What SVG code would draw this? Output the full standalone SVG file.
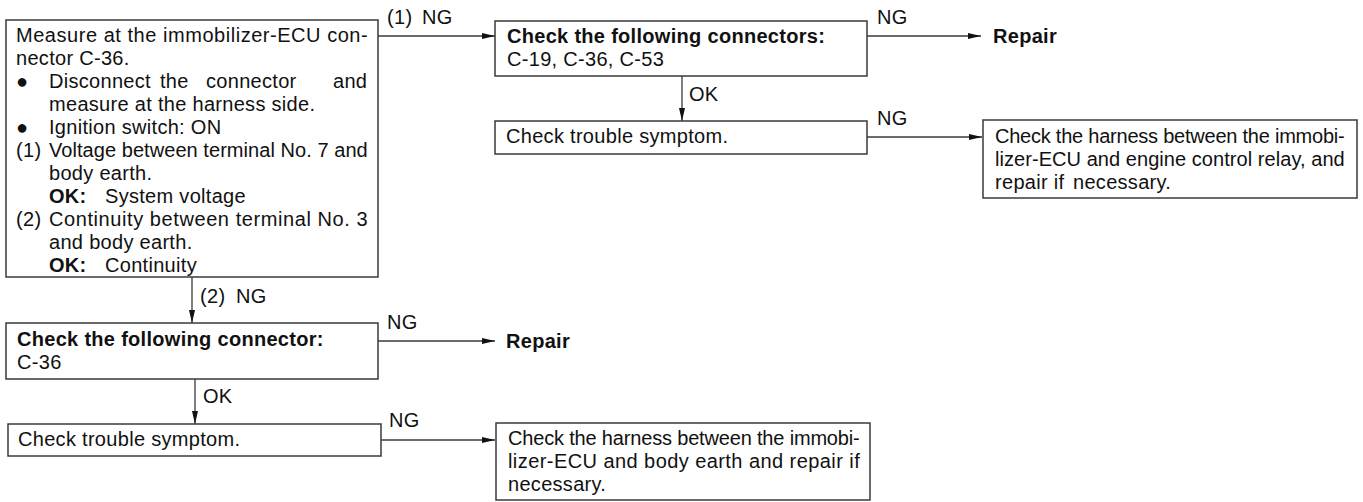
<svg xmlns="http://www.w3.org/2000/svg" width="1363" height="502" viewBox="0 0 1363 502">
<defs>
<style>
.box{fill:#fff;stroke:#3a3a3a;stroke-width:1.5}
.t{font-family:"Liberation Sans",Arial,Helvetica,sans-serif;font-size:20px;fill:#111;letter-spacing:0.3px}
.b{font-weight:bold}
.ln{stroke:#3a3a3a;stroke-width:1.3;fill:none}
</style>
<marker id="ah" markerWidth="14" markerHeight="8" refX="13" refY="4" orient="auto" markerUnits="userSpaceOnUse">
<path d="M0,1 L13,4 L0,7 Z" fill="#111"/>
</marker>
</defs>
<rect width="1363" height="502" fill="#fff"/>

<g id="connectors">
<line class="ln" x1="378" y1="36" x2="495" y2="36" marker-end="url(#ah)"/>
<text class="t" y="24"><tspan x="387">(1)</tspan><tspan x="422">NG</tspan></text>
<line class="ln" x1="867" y1="36" x2="981" y2="36" marker-end="url(#ah)"/>
<text class="t" x="877" y="24">NG</text>
<line class="ln" x1="682" y1="76" x2="682" y2="121" marker-end="url(#ah)"/>
<text class="t" x="689" y="101">OK</text>
<line class="ln" x1="867" y1="137" x2="982" y2="137" marker-end="url(#ah)"/>
<text class="t" x="877" y="125">NG</text>
<line class="ln" x1="192" y1="277" x2="192" y2="323" marker-end="url(#ah)"/>
<text class="t" y="303"><tspan x="200">(2)</tspan><tspan x="236">NG</tspan></text>
<line class="ln" x1="378" y1="341" x2="495" y2="341" marker-end="url(#ah)"/>
<text class="t" x="387" y="329">NG</text>
<line class="ln" x1="195" y1="379" x2="195" y2="424" marker-end="url(#ah)"/>
<text class="t" x="203" y="403">OK</text>
<line class="ln" x1="381" y1="440" x2="495" y2="440" marker-end="url(#ah)"/>
<text class="t" x="389" y="427">NG</text>
</g>

<g id="n1">
<rect class="box" x="6" y="20" width="372" height="257"/>
<text class="t" x="16" y="42" textLength="352" lengthAdjust="spacing">Measure at the immobilizer-ECU con-</text>
<text class="t" x="16" y="65">nector C-36.</text>
<text class="t" x="16" y="88">●</text>
<text class="t" y="88"><tspan x="49">Disconnect</tspan><tspan x="160">the</tspan><tspan x="206">connector</tspan><tspan x="333">and</tspan></text>
<text class="t" x="49" y="111">measure at the harness side.</text>
<text class="t" x="16" y="134">●</text>
<text class="t" x="49" y="134">Ignition switch: ON</text>
<text class="t" x="16" y="157">(1)</text>
<text class="t" x="49" y="157" textLength="319" lengthAdjust="spacing">Voltage between terminal No. 7 and</text>
<text class="t" x="49" y="180">body earth.</text>
<text class="t b" x="49" y="203">OK:</text>
<text class="t" x="105" y="203">System voltage</text>
<text class="t" x="16" y="226">(2)</text>
<text class="t" x="49" y="226" textLength="319" lengthAdjust="spacing">Continuity between terminal No. 3</text>
<text class="t" x="49" y="249">and body earth.</text>
<text class="t b" x="49" y="272">OK:</text>
<text class="t" x="105" y="272">Continuity</text>
</g>

<g id="n2">
<rect class="box" x="495" y="21" width="372" height="55"/>
<text class="t b" x="507" y="43">Check the following connectors:</text>
<text class="t" x="507" y="66">C-19, C-36, C-53</text>
</g>

<g id="n3">
<text class="t b" x="993" y="43">Repair</text>
</g>

<g id="n4">
<rect class="box" x="495" y="121" width="372" height="33"/>
<text class="t" x="506" y="143">Check trouble symptom.</text>
</g>

<g id="n5">
<rect class="box" x="983" y="120" width="374" height="78"/>
<text class="t" x="995" y="143" textLength="350" lengthAdjust="spacing">Check the harness between the immobi-</text>
<text class="t" x="995" y="166" textLength="350" lengthAdjust="spacing">lizer-ECU and engine control relay, and</text>
<text class="t" y="189"><tspan x="995">repair if</tspan><tspan x="1073">necessary.</tspan></text>
</g>

<g id="n6">
<rect class="box" x="6" y="323" width="372" height="56"/>
<text class="t b" x="17" y="346">Check the following connector:</text>
<text class="t" x="17" y="369">C-36</text>
</g>

<g id="n7">
<text class="t b" x="506" y="348">Repair</text>
</g>

<g id="n8">
<rect class="box" x="8" y="424" width="373" height="32"/>
<text class="t" x="18" y="446">Check trouble symptom.</text>
</g>

<g id="n9">
<rect class="box" x="496" y="423" width="374" height="77"/>
<text class="t" x="508" y="445" textLength="352" lengthAdjust="spacing">Check the harness between the immobi-</text>
<text class="t" x="508" y="468" textLength="352" lengthAdjust="spacing">lizer-ECU and body earth and repair if</text>
<text class="t" x="508" y="491">necessary.</text>
</g>
</svg>
